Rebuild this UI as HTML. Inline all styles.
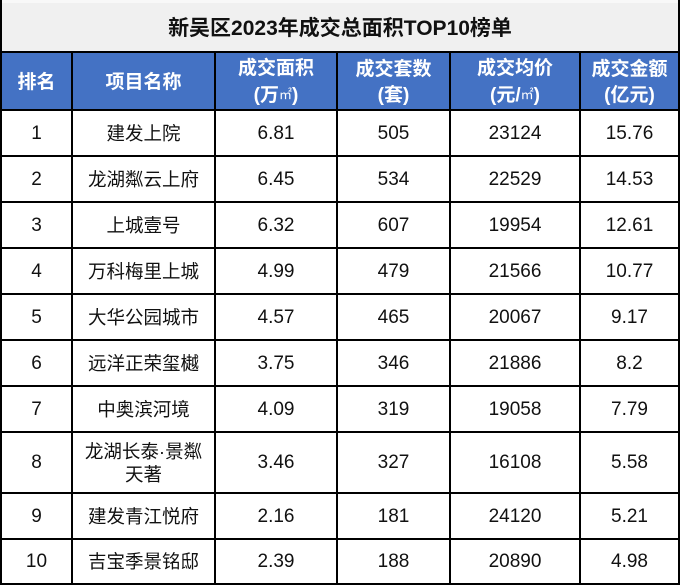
<!DOCTYPE html>
<html>
<head>
<meta charset="utf-8">
<style>
  html,body{margin:0;padding:0;background:#fff;}
  body{width:682px;height:586px;position:relative;overflow:hidden;
    font-family:"Liberation Sans","Noto Sans CJK SC",sans-serif;}
  .c{position:absolute;display:flex;align-items:center;justify-content:center;text-align:center;box-sizing:border-box;}
  .t{background:#f0f0f0;}
  .h{background:#4472c4;color:#fff;font-weight:bold;font-size:19px;line-height:26px;padding-top:3px;}
  .d{color:#111;font-size:18.5px;line-height:23px;}
  .n{font-size:19px;}
  .m{font-size:13px;font-weight:normal;vertical-align:2px;}
  .ln{position:absolute;background:#000;}
</style>
</head>
<body>
<!-- title -->
<div class="c t" style="left:0;top:0;width:680px;height:52px;">
  <div style="font-weight:bold;font-size:21px;color:#111;margin-top:1px;">新吴区2023年成交总面积TOP10榜单</div>
</div>
<div style="position:absolute;left:0;top:0;width:680px;height:3px;background:#f8f8f8;"></div>

<!-- header -->
<div class="c h" style="left:0;top:52px;width:680px;height:58px;"></div>
<div class="c h" style="left:2px;top:53px;width:69px;height:56px;">排名</div>
<div class="c h" style="left:73px;top:53px;width:141px;height:56px;">项目名称</div>
<div class="c h" style="left:216px;top:53px;width:120px;height:56px;"><div>成交面积<br>(万<span class="m">㎡</span>)</div></div>
<div class="c h" style="left:338px;top:53px;width:111px;height:56px;">成交套数<br>(套)</div>
<div class="c h" style="left:451px;top:53px;width:128px;height:56px;"><div>成交均价<br>(元/<span class="m">㎡</span>)</div></div>
<div class="c h" style="left:581px;top:53px;width:97px;height:56px;">成交金额<br>(亿元)</div>

<!-- row1 -->
<div class="c d n" style="left:2px;top:111px;width:69px;height:44px;">1</div>
<div class="c d" style="left:73px;top:111px;width:141px;height:44px;">建发上院</div>
<div class="c d n" style="left:216px;top:111px;width:120px;height:44px;">6.81</div>
<div class="c d n" style="left:338px;top:111px;width:111px;height:44px;">505</div>
<div class="c d n" style="left:451px;top:111px;width:128px;height:44px;">23124</div>
<div class="c d n" style="left:581px;top:111px;width:97px;height:44px;">15.76</div>
<!-- row2 -->
<div class="c d n" style="left:2px;top:157px;width:69px;height:44px;">2</div>
<div class="c d" style="left:73px;top:157px;width:141px;height:44px;">龙湖粼云上府</div>
<div class="c d n" style="left:216px;top:157px;width:120px;height:44px;">6.45</div>
<div class="c d n" style="left:338px;top:157px;width:111px;height:44px;">534</div>
<div class="c d n" style="left:451px;top:157px;width:128px;height:44px;">22529</div>
<div class="c d n" style="left:581px;top:157px;width:97px;height:44px;">14.53</div>
<!-- row3 -->
<div class="c d n" style="left:2px;top:203px;width:69px;height:44px;">3</div>
<div class="c d" style="left:73px;top:203px;width:141px;height:44px;">上城壹号</div>
<div class="c d n" style="left:216px;top:203px;width:120px;height:44px;">6.32</div>
<div class="c d n" style="left:338px;top:203px;width:111px;height:44px;">607</div>
<div class="c d n" style="left:451px;top:203px;width:128px;height:44px;">19954</div>
<div class="c d n" style="left:581px;top:203px;width:97px;height:44px;">12.61</div>
<!-- row4 -->
<div class="c d n" style="left:2px;top:249px;width:69px;height:44px;">4</div>
<div class="c d" style="left:73px;top:249px;width:141px;height:44px;">万科梅里上城</div>
<div class="c d n" style="left:216px;top:249px;width:120px;height:44px;">4.99</div>
<div class="c d n" style="left:338px;top:249px;width:111px;height:44px;">479</div>
<div class="c d n" style="left:451px;top:249px;width:128px;height:44px;">21566</div>
<div class="c d n" style="left:581px;top:249px;width:97px;height:44px;">10.77</div>
<!-- row5 -->
<div class="c d n" style="left:2px;top:295px;width:69px;height:44px;">5</div>
<div class="c d" style="left:73px;top:295px;width:141px;height:44px;">大华公园城市</div>
<div class="c d n" style="left:216px;top:295px;width:120px;height:44px;">4.57</div>
<div class="c d n" style="left:338px;top:295px;width:111px;height:44px;">465</div>
<div class="c d n" style="left:451px;top:295px;width:128px;height:44px;">20067</div>
<div class="c d n" style="left:581px;top:295px;width:97px;height:44px;">9.17</div>
<!-- row6 -->
<div class="c d n" style="left:2px;top:341px;width:69px;height:44px;">6</div>
<div class="c d" style="left:73px;top:341px;width:141px;height:44px;">远洋正荣玺樾</div>
<div class="c d n" style="left:216px;top:341px;width:120px;height:44px;">3.75</div>
<div class="c d n" style="left:338px;top:341px;width:111px;height:44px;">346</div>
<div class="c d n" style="left:451px;top:341px;width:128px;height:44px;">21886</div>
<div class="c d n" style="left:581px;top:341px;width:97px;height:44px;">8.2</div>
<!-- row7 -->
<div class="c d n" style="left:2px;top:387px;width:69px;height:44px;">7</div>
<div class="c d" style="left:73px;top:387px;width:141px;height:44px;">中奥滨河境</div>
<div class="c d n" style="left:216px;top:387px;width:120px;height:44px;">4.09</div>
<div class="c d n" style="left:338px;top:387px;width:111px;height:44px;">319</div>
<div class="c d n" style="left:451px;top:387px;width:128px;height:44px;">19058</div>
<div class="c d n" style="left:581px;top:387px;width:97px;height:44px;">7.79</div>
<!-- row8 -->
<div class="c d n" style="left:2px;top:433px;width:69px;height:59px;">8</div>
<div class="c d" style="left:73px;top:433px;width:141px;height:59px;">龙湖长泰·景粼<br>天著</div>
<div class="c d n" style="left:216px;top:433px;width:120px;height:59px;">3.46</div>
<div class="c d n" style="left:338px;top:433px;width:111px;height:59px;">327</div>
<div class="c d n" style="left:451px;top:433px;width:128px;height:59px;">16108</div>
<div class="c d n" style="left:581px;top:433px;width:97px;height:59px;">5.58</div>
<!-- row9 -->
<div class="c d n" style="left:2px;top:494px;width:69px;height:44px;">9</div>
<div class="c d" style="left:73px;top:494px;width:141px;height:44px;">建发青江悦府</div>
<div class="c d n" style="left:216px;top:494px;width:120px;height:44px;">2.16</div>
<div class="c d n" style="left:338px;top:494px;width:111px;height:44px;">181</div>
<div class="c d n" style="left:451px;top:494px;width:128px;height:44px;">24120</div>
<div class="c d n" style="left:581px;top:494px;width:97px;height:44px;">5.21</div>
<!-- row10 -->
<div class="c d n" style="left:2px;top:540px;width:69px;height:43px;">10</div>
<div class="c d" style="left:73px;top:540px;width:141px;height:43px;">吉宝季景铭邸</div>
<div class="c d n" style="left:216px;top:540px;width:120px;height:43px;">2.39</div>
<div class="c d n" style="left:338px;top:540px;width:111px;height:43px;">188</div>
<div class="c d n" style="left:451px;top:540px;width:128px;height:43px;">20890</div>
<div class="c d n" style="left:581px;top:540px;width:97px;height:43px;">4.98</div>

<!-- horizontal lines -->
<div class="ln" style="left:0;top:51px;width:680px;height:2px;"></div>
<div class="ln" style="left:0;top:109px;width:680px;height:2px;"></div>
<div class="ln" style="left:0;top:155px;width:680px;height:2px;"></div>
<div class="ln" style="left:0;top:201px;width:680px;height:2px;"></div>
<div class="ln" style="left:0;top:247px;width:680px;height:2px;"></div>
<div class="ln" style="left:0;top:293px;width:680px;height:2px;"></div>
<div class="ln" style="left:0;top:339px;width:680px;height:2px;"></div>
<div class="ln" style="left:0;top:385px;width:680px;height:2px;"></div>
<div class="ln" style="left:0;top:431px;width:680px;height:2px;"></div>
<div class="ln" style="left:0;top:492px;width:680px;height:2px;"></div>
<div class="ln" style="left:0;top:538px;width:680px;height:2px;"></div>
<div class="ln" style="left:0;top:583px;width:680px;height:2px;"></div>

<!-- vertical lines -->
<div class="ln" style="left:0;top:0;width:2px;height:585px;"></div>
<div class="ln" style="left:678px;top:0;width:2px;height:585px;"></div>
<div class="ln" style="left:71px;top:51px;width:2px;height:534px;"></div>
<div class="ln" style="left:214px;top:51px;width:2px;height:534px;"></div>
<div class="ln" style="left:336px;top:51px;width:2px;height:534px;"></div>
<div class="ln" style="left:449px;top:51px;width:2px;height:534px;"></div>
<div class="ln" style="left:579px;top:51px;width:2px;height:534px;"></div>
</body>
</html>
